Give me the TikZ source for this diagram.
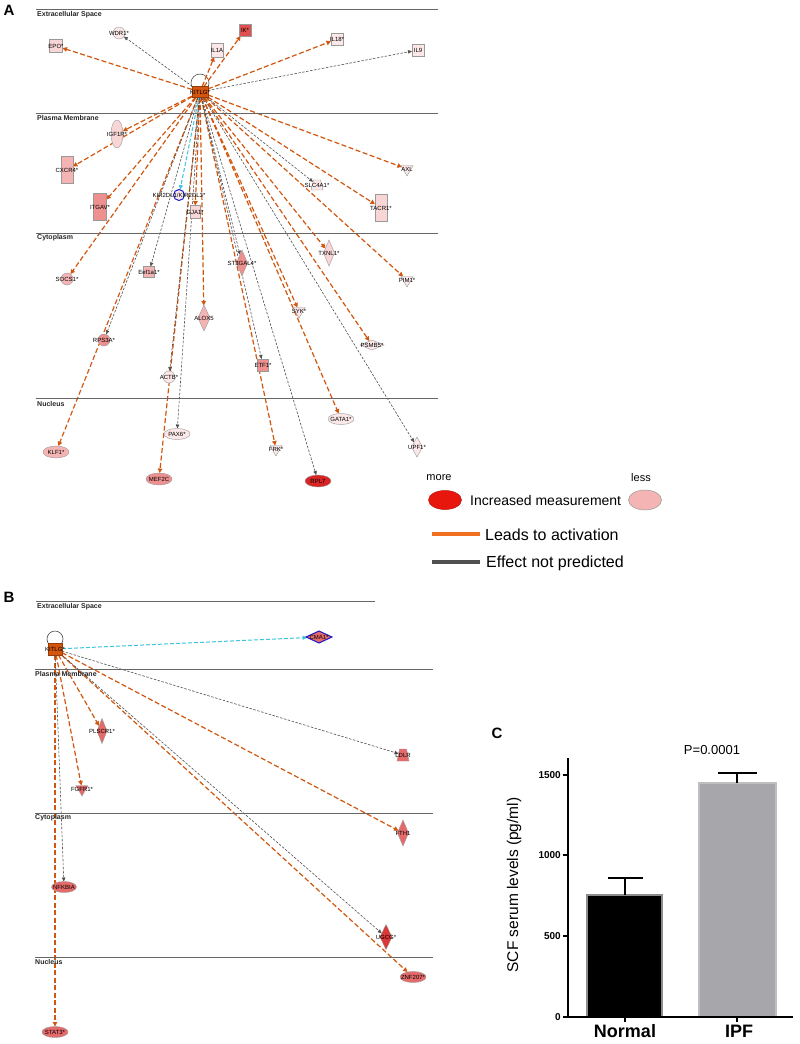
\documentclass[tikz,border=0pt]{standalone}
\usepackage{fontspec}
\setmainfont{Liberation Sans}
\usetikzlibrary{shapes.geometric,arrows.meta}
\pgfdeclarelayer{bg}
\pgfdeclarelayer{paper}
\pgfsetlayers{paper,bg,main}
\definecolor{orng}{HTML}{D2560E}
\definecolor{gry}{HTML}{505050}
\definecolor{cyn}{HTML}{3EC4DC}
\definecolor{kitc}{HTML}{D4560E}
\definecolor{pA}{HTML}{FCE8E8}
\definecolor{pB}{HTML}{F9D6D6}
\definecolor{pC}{HTML}{F4B4B4}
\definecolor{pD}{HTML}{EE9090}
\definecolor{pE}{HTML}{E05050}
\definecolor{pF}{HTML}{D82424}
\definecolor{rB}{HTML}{E66A6A}
\definecolor{rC}{HTML}{DC3636}
\definecolor{blu}{HTML}{1A1AC8}
\definecolor{legred}{HTML}{E8170E}
\definecolor{legpink}{HTML}{F4B4B4}
\definecolor{legorng}{HTML}{F07020}
\definecolor{ipfc}{HTML}{A7A7AB}
\newcommand\genefont{\fontsize{6}{7}\selectfont}
\newcommand\regfont{\fontsize{7}{8}\selectfont\bfseries}
\tikzset{
  gene/.style={draw=black!40, line width=0.4pt, inner sep=0pt, outer sep=0pt},
  rectn/.style n args={2}{gene, rectangle, minimum width=#1, minimum height=#2},
  elln/.style n args={2}{gene, ellipse, minimum width=#1, minimum height=#2},
  dian/.style n args={2}{gene, diamond, minimum width=#1, minimum height=#2},
  circn/.style={gene, circle, minimum size=#1},
  tridown/.style={gene, regular polygon, regular polygon sides=3, shape border rotate=180, minimum size=#1},
  trapn/.style n args={2}{gene, trapezium, inner sep=1pt, trapezium stretches=true, trapezium left angle=70, trapezium right angle=70, minimum width=#1, minimum height=#2},
  every label/.style={font=\genefont, inner sep=0pt, text=black},
  act/.style={draw=orng, line width=1.2pt, dash pattern=on 5pt off 2.5pt, -{Triangle[length=4.5pt,width=4.5pt]}},
  nop/.style={draw=gry, line width=0.6pt, dash pattern=on 2.5pt off 1.5pt, -{Triangle[length=4pt,width=3.5pt]}},
  cya/.style={draw=cyn, line width=1pt, dash pattern=on 4pt off 2pt, -{Triangle[length=4.5pt,width=4pt]}},
  region/.style={draw=black!60, line width=0.7pt},
  regl/.style={font=\regfont, anchor=west, inner sep=0pt, text=black!85},
  loopc/.style={draw=black!70, line width=0.6pt},
  panell/.style={font=\fontsize{15}{16}\selectfont\bfseries, inner sep=0pt},
}
\begin{document}
\begin{tikzpicture}[x=1pt,y=-1pt]
\useasboundingbox (0,0) rectangle (800,1044);
\begin{pgfonlayer}{paper}
\fill[white] (0,0) rectangle (800,1044);
\end{pgfonlayer}

% ---------------- Panel A ----------------
\node[panell] (letA) at (9,10) {A};
\draw[region] (36,9.5) -- (438,9.5);
\draw[region] (36,113) -- (438,113);
\draw[region] (36,233) -- (438,233);
\draw[region] (36,398) -- (438,398);
\node[regl] (aex) at (37,15) {Extracellular Space};
\node[regl] (apm) at (37,118) {Plasma Membrane};
\node[regl] (acy) at (37,238) {Cytoplasm};
\node[regl] (anu) at (37,404) {Nucleus};

\node[rectn={16}{11}, fill=kitc, draw=kitc!70!black, label={center:KITLG*}] (kitlg) at (200,92) {};
\node[rectn={13}{13}, fill=pB, label={center:EPO*}] (epo) at (56,46) {};
\node[circn=12, fill=pA, label={center:WDR1*}] (wdr1) at (119,33) {};
\node[rectn={12}{14}, fill=pA, label={center:IL1A}] (il1a) at (217,50) {};
\node[rectn={12}{12}, fill=pE, label={center:IK*}] (ik) at (245,30) {};
\node[rectn={12}{12}, fill=pA, label={center:IL18*}] (il18) at (337,39) {};
\node[rectn={12}{12}, fill=pA, label={center:IL9}] (il9) at (418,50) {};
\node[elln={12}{28}, fill=pB, label={center:IGF1R*}] (igf1r) at (117,134) {};
\node[rectn={12}{27}, fill=pC, label={center:CXCR4*}] (cxcr4) at (67,170) {};
\node[rectn={13}{27}, fill=pD, label={center:ITGAV*}] (itgav) at (100,207) {};
\node[circn=11, fill=pA, draw=blu, line width=1pt, label={center:KIR2DL1/KIR2DL3*}] (kir) at (179,195) {};
\node[rectn={10}{13}, fill=pB, label={center:GJA1*}] (gja1) at (195,212) {};
\node[trapn={12}{10}, fill=pA, label={center:SLC4A1*}] (slc4a1) at (317,185) {};
\node[tridown=14, fill=pA, label={center:AXL}] (axl) at (407,169) {};
\node[rectn={12}{27}, fill=pB, label={center:TACR1*}] (tacr1) at (381,208) {};
\node[circn=12, fill=pC, label={center:SOCS1*}] (socs1) at (67,279) {};
\node[rectn={11}{11}, fill=pC, label={center:Eef1a1*}] (eef1a1) at (149,272) {};
\node[dian={11}{26}, fill=pD, label={center:ST3GAL4*}] (st3gal4) at (242,263) {};
\node[dian={11}{26}, fill=pB, label={center:TXNL1*}] (txnl1) at (329,253) {};
\node[tridown=14, fill=pA, label={center:PIM1*}] (pim1) at (407,280) {};
\node[dian={12}{26}, fill=pC, label={center:ALOX5}] (alox5) at (204,318) {};
\node[tridown=14, fill=pA, label={center:SYK*}] (syk) at (299,311) {};
\node[circn=12, fill=pD, label={center:RPS3A*}] (rps3a) at (104,340) {};
\node[dian={24}{10}, fill=pA, label={center:PSMB5*}] (psmb5) at (372,345) {};
\node[circn=12, fill=pA, label={center:ACTB*}] (actb) at (169,377) {};
\node[rectn={11}{12}, fill=pD, label={center:ETF1*}] (etf1) at (263,365) {};
\node[elln={26}{12}, fill=pC, label={center:KLF1*}] (klf1) at (56,452) {};
\node[elln={26}{11}, fill=pA, label={center:PAX6*}] (pax6) at (177,434) {};
\node[elln={26}{12}, fill=pD, label={center:MEF2C}] (mef2c) at (159,479) {};
\node[tridown=14, fill=pA, label={center:FRK*}] (frk) at (276,449) {};
\node[elln={26}{12}, fill=pF, label={center:RPL7}] (rpl7) at (318,481) {};
\node[elln={26}{11}, fill=pA, label={center:GATA1*}] (gata1) at (341,419) {};
\node[dian={11}{20}, fill=pA, label={center:UPF1*}] (upf1) at (417,447) {};

\begin{pgfonlayer}{bg}
\draw[loopc] (200,83) circle (9);
\foreach \t in {epo,il1a,ik,il18,igf1r,cxcr4,itgav,gja1,axl,tacr1,socs1,txnl1,pim1,alox5,syk,psmb5,klf1,mef2c,frk,gata1}
  \draw[act] (kitlg) -- (\t);
\foreach \t in {wdr1,il9,slc4a1,eef1a1,st3gal4,rps3a,actb,etf1,pax6,rpl7,upf1}
  \draw[nop] (kitlg) -- (\t);
\draw[cya] (kitlg) -- (kir);
\end{pgfonlayer}

% ---------------- Legend ----------------
\node[font=\fontsize{11}{12}\selectfont] (lmore) at (439,478) {more};
\node[font=\fontsize{11}{12}\selectfont] (lless) at (641,478) {less};
\node[ellipse, fill=legred, draw=legred!80!black, line width=0.5pt, minimum width=33, minimum height=19, inner sep=0pt] (lred) at (445,500) {};
\node[ellipse, fill=legpink, draw=black!40, line width=0.5pt, minimum width=33, minimum height=20, inner sep=0pt] (lpink) at (645,500) {};
\node[font=\fontsize{14}{16}\selectfont, anchor=west, inner sep=0pt] (linc) at (470,500) {Increased measurement};
\draw[legorng, line width=3.5pt] (432,534) -- (480,534);
\draw[gry, line width=3.5pt] (432,562) -- (480,562);
\node[font=\fontsize{16}{18}\selectfont, anchor=west, inner sep=0pt] (lact) at (485,535) {Leads to activation};
\node[font=\fontsize{16}{18}\selectfont, anchor=west, inner sep=0pt] (lnop) at (486,563) {Effect not predicted};

% ---------------- Panel B ----------------
\node[panell] (letB) at (9,597) {B};
\draw[region] (36,601) -- (375,601);
\draw[region] (35,669) -- (433,669);
\draw[region] (35,813) -- (433,813);
\draw[region] (35,957) -- (433,957);
\node[regl] (bex) at (37,607) {Extracellular Space};
\node[regl] (bpm) at (35,674) {Plasma Membrane};
\node[regl] (bcy) at (35,818) {Cytoplasm};
\node[regl] (bnu) at (35,962) {Nucleus};

\node[rectn={14}{12}, fill=kitc, draw=kitc!70!black, label={center:KITLG*}] (kitlgb) at (55,649) {};
\node[dian={26}{12}, fill=rB, draw=blu, line width=1pt, label={center:CMA1*}] (cma1) at (319,637) {};
\node[dian={10}{25}, fill=rB, label={center:PLSCR1*}] (plscr1) at (102,731) {};
\node[trapn={12}{12}, fill=rB, label={center:LDLR}] (ldlr) at (403,755) {};
\node[tridown=14, fill=rB, label={center:FGFR1*}] (fgfr1) at (82,789) {};
\node[dian={11}{26}, fill=rB, label={center:FTH1}] (fth1) at (403,833) {};
\node[elln={25}{11}, fill=rB, label={center:NFKBIA}] (nfkbia) at (64,887) {};
\node[dian={12}{25}, fill=rC, label={center:UGCG*}] (ugcg) at (386,937) {};
\node[elln={26}{11}, fill=rB, label={center:ZNF207*}] (znf207) at (413,977) {};
\node[elln={26}{11}, fill=rB, label={center:STAT3*}] (stat3) at (55,1032) {};

\begin{pgfonlayer}{bg}
\draw[loopc] (55,639) circle (8);
\draw[cya] (kitlgb) -- (cma1);
\foreach \t in {plscr1,fgfr1,fth1,znf207,stat3}
  \draw[act] (kitlgb) -- (\t);
\foreach \t in {ldlr,ugcg,nfkbia}
  \draw[nop] (kitlgb) -- (\t);
\end{pgfonlayer}

% ---------------- Panel C ----------------
\node[panell] (letC) at (497,733) {C};
\node[font=\fontsize{13}{15}\selectfont] (pval) at (712,750) {P=0.0001};
\filldraw[fill=black, draw=black!45, line width=1.2pt] (587,1017) rectangle (662,895);
\filldraw[fill=ipfc, draw=black!25, line width=1.2pt] (699,1017) rectangle (776,783);
\draw[line width=1.3pt] (625,895) -- (625,878) (608,878) -- (643,878);
\draw[line width=1.3pt] (737,783) -- (737,773) (718,773) -- (757,773);
\draw[line width=1.6pt] (568,758) -- (568,1017) -- (793,1017);
\foreach \v/\yy in {0/1017,500/936,1000/855,1500/775} {
  \draw[line width=1.4pt] (563,\yy) -- (568,\yy);
  \node[anchor=east, font=\fontsize{10}{11}\selectfont\bfseries, inner sep=1pt] at (562,\yy) {\v};
}
\draw[line width=1.4pt] (625,1017) -- (625,1022) (737,1017) -- (737,1022);
\node[font=\fontsize{18}{20}\selectfont\bfseries] (lnorm) at (625,1031) {Normal};
\node[font=\fontsize{18}{20}\selectfont\bfseries] (lipf) at (739,1031) {IPF};
\node[rotate=90, font=\fontsize{15.5}{17}\selectfont] (ylab) at (514,885) {SCF serum levels (pg/ml)};
\end{tikzpicture}
\end{document}
